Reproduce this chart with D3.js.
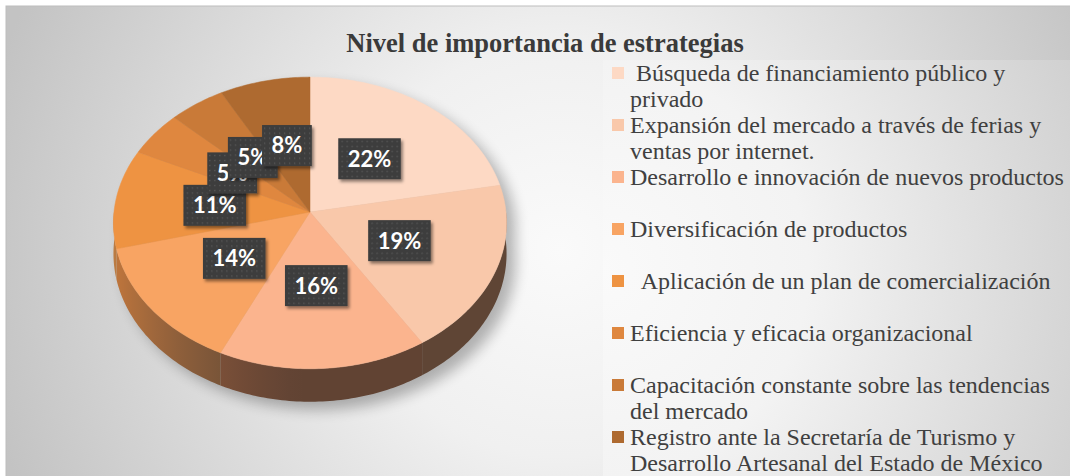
<!DOCTYPE html>
<html lang="es">
<head>
<meta charset="UTF-8">
<title>Nivel de importancia de estrategias</title>
<script src="https://d3js.org/d3.v7.min.js"></script>
<style>
    body { margin: 0; background: #fff; }
    svg { display: block; }
    .legend text { font-family: "Liberation Serif", "Times New Roman", serif; font-size: 24px; fill: #404040; white-space: pre; }
    .title { font-family: "Liberation Serif", "Times New Roman", serif; font-size: 26.5px; font-weight: bold; fill: #3a3a3a; }
    .lbl text { font-family: Lato, "Open Sans", sans-serif; font-size: 22px; font-weight: bold; fill: #fff; }
</style>
</head>
<body>
<svg width="1070" height="476"></svg>
<script>
// data
const categories = [
    " Búsqueda de financiamiento público y\nprivado",
    "Expansión del mercado a través de ferias y\nventas por internet.",
    "Desarrollo e innovación de nuevos productos",
    "Diversificación de productos",
    "  Aplicación de un plan de comercialización",
    "Eficiencia y eficacia organizacional",
    "Capacitación constante sobre las tendencias\ndel mercado",
    "Registro ante la Secretaría de Turismo y\nDesarrollo Artesanal del Estado de México"
];
const values = [22, 19, 16, 14, 11, 5, 5, 8];
const colors = ["#fdd9c4", "#f9c8aa", "#fbb48e", "#f8a463", "#ee9342", "#df873f", "#c97a38", "#ae6a30"];
const title = "Nivel de importancia de estrategias";

const svg = d3.select("svg");
const defs = svg.append("defs");

// background gradients
const bg = defs.append("radialGradient").attr("id", "bg")
    .attr("gradientUnits", "userSpaceOnUse").attr("cx", 560).attr("cy", 250).attr("r", 590);
bg.append("stop").attr("offset", 0).attr("stop-color", "#fafafa");
bg.append("stop").attr("offset", 0.35).attr("stop-color", "#f0f0f0");
bg.append("stop").attr("offset", 1).attr("stop-color", "#c3c3c3");

const lg = defs.append("radialGradient").attr("id", "lgbg")
    .attr("gradientUnits", "userSpaceOnUse").attr("cx", 600).attr("cy", 270).attr("r", 520);
lg.append("stop").attr("offset", 0).attr("stop-color", "#fafafa");
lg.append("stop").attr("offset", 0.4).attr("stop-color", "#f3f3f3");
lg.append("stop").attr("offset", 1).attr("stop-color", "#d0d0d0");

// dotted pattern for the data labels
const pat = defs.append("pattern").attr("id", "dots")
    .attr("width", 5).attr("height", 5).attr("patternUnits", "userSpaceOnUse");
pat.append("rect").attr("width", 5).attr("height", 5).attr("fill", "#3d3d3d");
pat.append("rect").attr("x", 2).attr("y", 2).attr("width", 1.3).attr("height", 1.3).attr("fill", "#5a5a5a");

defs.append("filter").attr("id", "boxShadow").attr("x", -0.2).attr("y", -0.2).attr("width", 1.5).attr("height", 1.5)
    .append("feDropShadow").attr("dx", 2).attr("dy", 2.5).attr("stdDeviation", 1.8)
    .attr("flood-color", "#000").attr("flood-opacity", 0.45);

defs.append("filter").attr("id", "pieShadow").attr("x", -0.3).attr("y", -0.3).attr("width", 1.6).attr("height", 1.6)
    .append("feGaussianBlur").attr("stdDeviation", 7);

svg.append("rect").attr("x", 6).attr("y", 6).attr("width", 1070).attr("height", 476)
    .attr("fill", "url(#bg)").attr("stroke", "#bdbdbd").attr("stroke-width", 1);
svg.append("rect").attr("x", 603).attr("y", 60).attr("width", 467).attr("height", 416)
    .attr("fill", "url(#lgbg)");

svg.append("text").attr("class", "title")
    .attr("x", 545).attr("y", 52).attr("text-anchor", "middle")
    .text(title);

// 3D pie with a little perspective
const cx = 310, cy = 212, B = 196, A = 145, persp = 0.075, H = 30.5;
function pt(a, f, drop) {
    const u = Math.sin(a) * f, v = Math.cos(a) * f;
    const s = 1 / (1 + persp * v);
    return [cx + B * u * s, cy - A * v * s + drop * H * s];
}

const arcs = d3.pie().sort(null).value(d => d)(values);
const step = Math.PI / 180;
const line = d3.line();

// soft shadow below the pie
const shadowPts = d3.range(0, 2 * Math.PI, step).map(a => {
    const p = pt(a, 1, Math.cos(a) < 0 ? 1 : 0);
    return [p[0] + 9, p[1] + 8];
});
svg.append("path").attr("d", line(shadowPts) + "Z")
    .attr("fill", "#000").attr("opacity", 0.28).attr("filter", "url(#pieShadow)");

// side wall: one path per slice, shaded by a horizontal gradient
const front0 = Math.PI / 2 - 0.02, front1 = 3 * Math.PI / 2 + 0.02;
const sides = svg.append("g");
arcs.forEach((d, i) => {
    const a0 = Math.max(d.startAngle, front0), a1 = Math.min(d.endAngle, front1);
    if (a1 <= a0) return;
    const base = d3.hsl(colors[i]);
    const angs = d3.range(a0, a1, step).concat([a1]);
    const top = angs.map(a => pt(a, 1, 0));
    const bot = angs.map(a => pt(a, 1, 1)).reverse();
    const xs = top.map(p => p[0]);
    const xMin = d3.min(xs), xMax = d3.max(xs);
    const grad = defs.append("linearGradient").attr("id", "side" + i)
        .attr("gradientUnits", "userSpaceOnUse")
        .attr("x1", xMin).attr("x2", xMax).attr("y1", 0).attr("y2", 0);
    angs.slice().reverse().forEach((a, k, arr) => {
        if (k % 4 && k !== arr.length - 1) return;
        const x = pt(a, 1, 0)[0];
        const lit = Math.pow(Math.max(0, -Math.sin(a)), 1.5);
        const c = d3.hsl(base.h, base.s * (0.33 + 0.25 * lit), 0.29 + 0.21 * lit);
        grad.append("stop")
            .attr("offset", xMax > xMin ? (x - xMin) / (xMax - xMin) : 0)
            .attr("stop-color", c.formatHex());
    });
    sides.append("path")
        .attr("d", line(top.concat(bot)) + "Z")
        .attr("fill", `url(#side${i})`);
});

// top faces
svg.append("g").selectAll("path")
    .data(arcs)
    .join("path")
    .attr("d", d => {
        const pts = [pt(0, 0, 0)];
        for (let a = d.startAngle; a < d.endAngle; a += step) pts.push(pt(a, 1, 0));
        pts.push(pt(d.endAngle, 1, 0));
        return line(pts) + "Z";
    })
    .attr("fill", (d, i) => colors[i])
    .attr("stroke", (d, i) => colors[i]).attr("stroke-width", 0.5);

// data labels
const lbl = svg.append("g").selectAll("g")
    .data(arcs)
    .join("g").attr("class", "lbl")
    .attr("transform", d => {
        const p = pt((d.startAngle + d.endAngle) / 2, 0.49, 0);
        return `translate(${p[0]},${p[1]})`;
    });
lbl.append("text")
    .attr("text-anchor", "middle").attr("dy", "0.36em")
    .text(d => d.data + "%");
lbl.each(function () {
    const g = d3.select(this);
    const w = g.select("text").node().getComputedTextLength() + 19;
    g.insert("rect", "text")
        .attr("x", -w / 2).attr("y", -20.5).attr("width", w).attr("height", 41)
        .attr("fill", "url(#dots)").attr("filter", "url(#boxShadow)");
});

// legend
const ly = d3.scalePoint().domain(categories).range([73, 437]);
const leg = svg.append("g").attr("class", "legend").selectAll("g")
    .data(categories)
    .join("g")
    .attr("transform", d => `translate(612,${ly(d)})`);
leg.append("rect")
    .attr("x", 0).attr("y", -6).attr("width", 12).attr("height", 12)
    .attr("fill", (d, i) => colors[i]);
leg.append("text")
    .attr("x", 18).attr("y", 8)
    .selectAll("tspan")
    .data(d => d.split("\n"))
    .join("tspan")
    .attr("x", 18).attr("dy", (d, i) => i ? 25.5 : 0)
    .text(d => d);
</script>
</body>
</html>
